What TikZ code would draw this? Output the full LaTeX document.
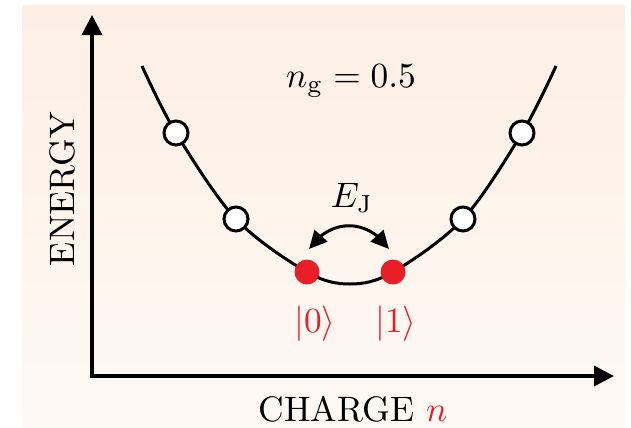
\documentclass[tikz,border=0pt]{standalone}
\usetikzlibrary{arrows.meta,bending}
\definecolor{bgtop}{RGB}{253,239,228}
\definecolor{bgbot}{RGB}{254,249,244}
\definecolor{qred}{RGB}{232,30,40}
\tikzset{
  axis/.style={line width=3.5bp,line join=miter,{Triangle[length=20bp,width=20bp]}-{Triangle[length=20bp,width=20bp]}},
  curveline/.style={line width=3bp},
  wdot/.style={circle,draw=black,line width=3bp,fill=white,minimum size=24bp,inner sep=0pt},
  rdot/.style={circle,fill=qred,minimum size=25bp,inner sep=0pt},
  lbl/.style={scale=3.55,inner sep=0pt},
  ejtip/.style={line width=3bp,{Triangle[length=18bp,width=17bp,flex]}-{Triangle[length=18bp,width=17bp,flex]}},
}
\begin{document}
\begin{tikzpicture}[x=1bp,y=-1bp]
\useasboundingbox (0,0) rectangle (631,427);
\shade[top color=bgtop,bottom color=bgbot] (22,5) rectangle (625,427);
% axes
\coordinate (ytip) at (92,15);
\coordinate (orig) at (92,376);
\coordinate (xtip) at (614,376);
\draw[axis] (ytip) -- (orig) -- (xtip);
% curve points
\coordinate (cl) at (142,66);
\coordinate (p1) at (176,133);
\coordinate (p2) at (236,219);
\coordinate (p3) at (307,272);
\coordinate (pm) at (350,284);
\coordinate (p4) at (393,272);
\coordinate (p5) at (463,219);
\coordinate (p6) at (522,133);
\coordinate (cr) at (556,66);
\draw[curveline] plot[smooth,tension=0.55] coordinates {(cl) (p1) (p2) (p3) (pm) (p4) (p5) (p6) (cr)};
\node[wdot] (w1) at (p1) {};
\node[wdot] (w2) at (p2) {};
\node[wdot] (w5) at (p5) {};
\node[wdot] (w6) at (p6) {};
\node[rdot] (r0) at (p3) {};
\node[rdot] (r1) at (p4) {};
% E_J arrow
\coordinate (al) at (309,249);
\coordinate (ar) at (389,249);
\draw[ejtip] (al) .. controls (330,218) and (368,218) .. (ar);
% labels
\node[lbl,anchor=base] (ej) at (352,207) {$E_{\mathrm{J}}$};
\node[lbl,anchor=base] (ng) at (351,87) {$n_{\mathrm{g}} = 0.5$};
\node[lbl,text=qred,anchor=base] (k0) at (315,332) {$|0\rangle$};
\node[lbl,text=qred,anchor=base] (k1) at (396,332) {$|1\rangle$};
\node[lbl,rotate=90] (en) at (62,189) {ENERGY};
\node[lbl,anchor=base] (ch) at (353,421) {CHARGE \textcolor{qred}{$n$}};
\end{tikzpicture}
\end{document}
